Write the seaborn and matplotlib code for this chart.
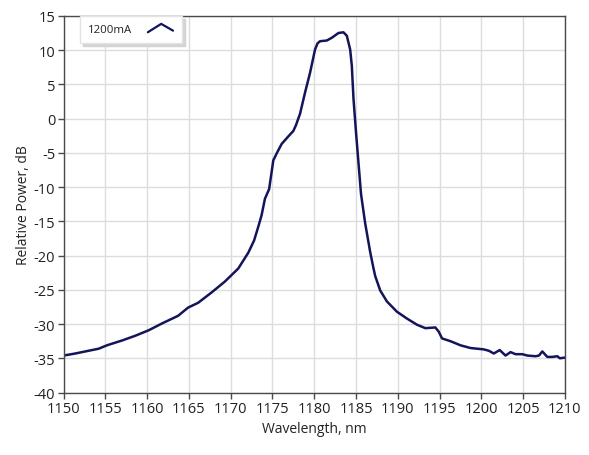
import matplotlib
matplotlib.use("Agg")
import matplotlib.pyplot as plt
import seaborn as sns
import pandas as pd
from matplotlib.legend_handler import HandlerBase
from matplotlib.lines import Line2D

wavelength = [1150.0, 1151.4, 1153.0, 1154.2, 1155.2, 1157.0, 1158.6, 1160.2, 1161.8, 1163.7,
              1164.9, 1166.1, 1167.7, 1169.3, 1170.9, 1172.1, 1172.8, 1173.3, 1173.7, 1174.1,
              1174.6, 1174.9, 1175.1, 1175.5, 1176.1, 1176.9, 1177.5, 1177.8, 1178.3, 1178.9,
              1179.5, 1180.1, 1180.4, 1180.7, 1181.5, 1182.1, 1182.9, 1183.5, 1183.9, 1184.3,
              1184.5, 1184.7, 1185.0, 1185.3, 1185.6, 1186.1, 1186.7, 1187.1, 1187.3, 1187.9,
              1188.7, 1189.9, 1191.1, 1192.3, 1193.3, 1194.5, 1194.9, 1195.3, 1196.3, 1197.5,
              1198.7, 1200.3, 1200.9, 1201.5, 1202.2, 1202.9, 1203.5, 1204.1, 1204.9, 1205.5,
              1206.5, 1206.9, 1207.3, 1207.9, 1208.5, 1209.1, 1209.4, 1210.0]
power = [-34.6, -34.3, -33.9, -33.6, -33.1, -32.4, -31.7, -30.9, -29.9, -28.8,
         -27.6, -26.9, -25.4, -23.8, -21.9, -19.6, -17.8, -15.8, -14.1, -11.7,
         -10.3, -7.8, -6.1, -5.1, -3.7, -2.6, -1.8, -1.0, 0.7, 3.8,
         6.7, 10.1, 11.0, 11.3, 11.4, 11.8, 12.5, 12.6, 12.1, 10.1,
         7.7, 2.9, -2.0, -6.5, -11.0, -15.3, -19.5, -21.9, -23.0, -25.1,
         -26.7, -28.2, -29.2, -30.1, -30.6, -30.5, -31.1, -32.1, -32.5, -33.1,
         -33.5, -33.7, -33.9, -34.3, -33.8, -34.6, -34.1, -34.4, -34.4, -34.6,
         -34.7, -34.6, -34.0, -34.8, -34.8, -34.7, -35.0, -34.9]
series_label = "1200mA"
x_ticks = list(range(1150, 1211, 5))
y_ticks = list(range(-40, 16, 5))

sns.set_theme(style="whitegrid")
plt.rcParams['font.family'] = ['Open Sans', 'DejaVu Sans']

df = pd.DataFrame({"Wavelength": wavelength, "Power": power, "Series": series_label})

fig = plt.figure(figsize=(5.89, 4.56), dpi=100)
ax = fig.add_axes([0.108, 0.137, 0.851, 0.826])

line_color = "#14145a"
sns.lineplot(data=df, x="Wavelength", y="Power", hue="Series", palette=[line_color],
             linewidth=1.8, ax=ax, sort=False, estimator=None)

ax.set_xlim(1150, 1210)
ax.set_ylim(-40, 15)
ax.set_xticks(x_ticks)
ax.set_yticks(y_ticks)
ax.set_xticklabels([str(t) for t in x_ticks])
ax.set_yticklabels([str(t) for t in y_ticks])
ax.grid(True, color="#dcdcdc", linewidth=1.0)
for s in ax.spines.values():
    s.set_color("#4a4a4a")
    s.set_linewidth(1.0)
ax.tick_params(axis="both", which="major", direction="out", length=4, width=1,
               color="#4a4a4a", labelsize=10.5, labelcolor="#222222", pad=2,
               bottom=True, left=True)
ax.set_xlabel("Wavelength, nm", fontsize=10, color="#222222", labelpad=4)
ax.set_ylabel("Relative Power, dB", fontsize=10, color="#222222", labelpad=2)


class ChevronHandler(HandlerBase):
    def create_artists(self, legend, orig_handle, xdescent, ydescent, width, height, fontsize, trans):
        w = width
        h = height
        l = Line2D([0.1 * w, 0.55 * w, 0.95 * w], [-0.05 * h, 1.0 * h, 0.15 * h],
                   color=line_color, linewidth=1.6, transform=trans)
        return [l]


handles, labels = ax.get_legend_handles_labels()
leg = ax.legend(handles, labels, loc="upper left", bbox_to_anchor=(0.033, 1.0),
                markerfirst=False, frameon=True, fancybox=False, shadow={'color': '#d4d4d4', 'alpha': 1.0},
                edgecolor="#e4e4e4", facecolor="white", framealpha=1.0, fontsize=8.2,
                handler_map={handles[0]: ChevronHandler()}, handlelength=2.6,
                borderpad=0.7, handletextpad=1.1, borderaxespad=0.0)
for t in leg.get_texts():
    t.set_color("#222222")

fig.savefig("out.png", dpi=100)
